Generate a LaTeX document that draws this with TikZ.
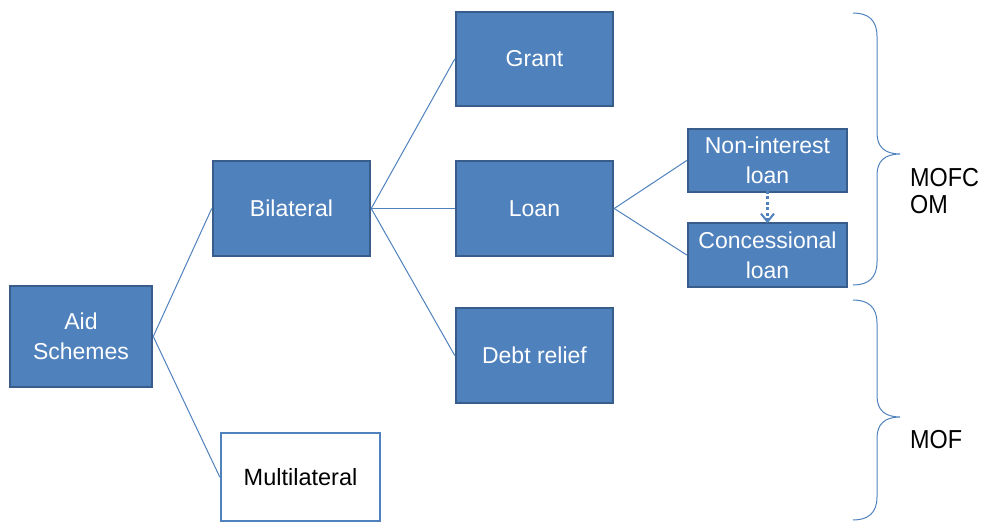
\documentclass[tikz,border=0pt]{standalone}
\usepackage{fontspec}
\setmainfont{Liberation Sans}
\newfontfamily\labelfont{Liberation Sans}[FakeStretch=0.9]
\usetikzlibrary{arrows.meta}
\definecolor{boxfill}{HTML}{4F81BD}
\definecolor{boxedge}{HTML}{385D8A}
\definecolor{linkblue}{HTML}{4F81BD}
\tikzset{
  bluebox/.style={draw=boxedge, fill=boxfill, line width=2.5pt, text=white,
    align=center, inner sep=2pt, font=\fontsize{23}{30}\selectfont},
  whitebox/.style={draw=linkblue, fill=white, line width=2.5pt, text=black,
    align=center, inner sep=2pt, font=\fontsize{23.5}{30}\selectfont},
  link/.style={draw=linkblue, line width=1pt},
  bracepath/.style={draw=linkblue, line width=1pt},
  sidelabel/.style={text=black, align=left, inner sep=0pt,
    font=\labelfont\fontsize{26}{27}\selectfont}
}
\begin{document}
\begin{tikzpicture}[x=1pt, y=-1pt]
\useasboundingbox (0,0) rectangle (986,527);

% tree of aid schemes
\node[bluebox, minimum width=142pt, minimum height=101pt] (aid) at (81,336.5) {Aid\\Schemes};
\node[bluebox, minimum width=157pt, minimum height=95pt] (bil) at (291.5,208.5) {Bilateral};
\node[whitebox, minimum width=159pt, minimum height=88pt] (mul) at (300.5,477) {Multilateral};
\node[bluebox, minimum width=157pt, minimum height=94pt] (grant) at (534.5,59) {Grant};
\node[bluebox, minimum width=157pt, minimum height=95pt] (loan) at (534.5,208.5) {Loan};
\node[bluebox, minimum width=157pt, minimum height=95pt] (debt) at (534.5,355.5) {Debt relief};
\node[bluebox, minimum width=159pt, minimum height=63pt] (nil) at (767.5,160.5) {Non-interest\\loan};
\node[bluebox, minimum width=159pt, minimum height=64pt] (con) at (767.5,255) {Concessional\\loan};

% connectors
\draw[link] (aid.east) -- (bil.west);
\draw[link] (aid.east) -- (mul.west);
\draw[link] (bil.east) -- (grant.west);
\draw[link] (bil.east) -- (loan.west);
\draw[link] (bil.east) -- (debt.west);
\draw[link] (loan.east) -- (nil.west);
\draw[link] (loan.east) -- (con.west);
\draw[draw=linkblue, line width=2.5pt, dash pattern=on 3pt off 2.5pt,
  -{Straight Barb[length=8pt, width=13pt, line width=2pt]}]
  ([yshift=2.5pt]nil.south) -- ([yshift=-1.5pt]con.north);

% curly braces on the right
\draw[bracepath] (853,13) .. controls (868,13) and (877,20) .. (877,36)
  -- (877,133) .. controls (877,147) and (885,154) .. (900,154)
  .. controls (885,154) and (877,161) .. (877,175)
  -- (877,262) .. controls (877,278) and (868,285) .. (853,285);
\draw[bracepath] (853,300) .. controls (868,300) and (877,307) .. (877,323)
  -- (877,396) .. controls (877,410) and (885,417) .. (900,417)
  .. controls (885,417) and (877,424) .. (877,438)
  -- (877,497) .. controls (877,513) and (868,520) .. (853,520);

\node[sidelabel, anchor=base west] (mofcom) at (910,213) {MOFC\\OM};
\node[sidelabel, anchor=base west] (mof) at (910,448) {MOF};
\end{tikzpicture}
\end{document}
